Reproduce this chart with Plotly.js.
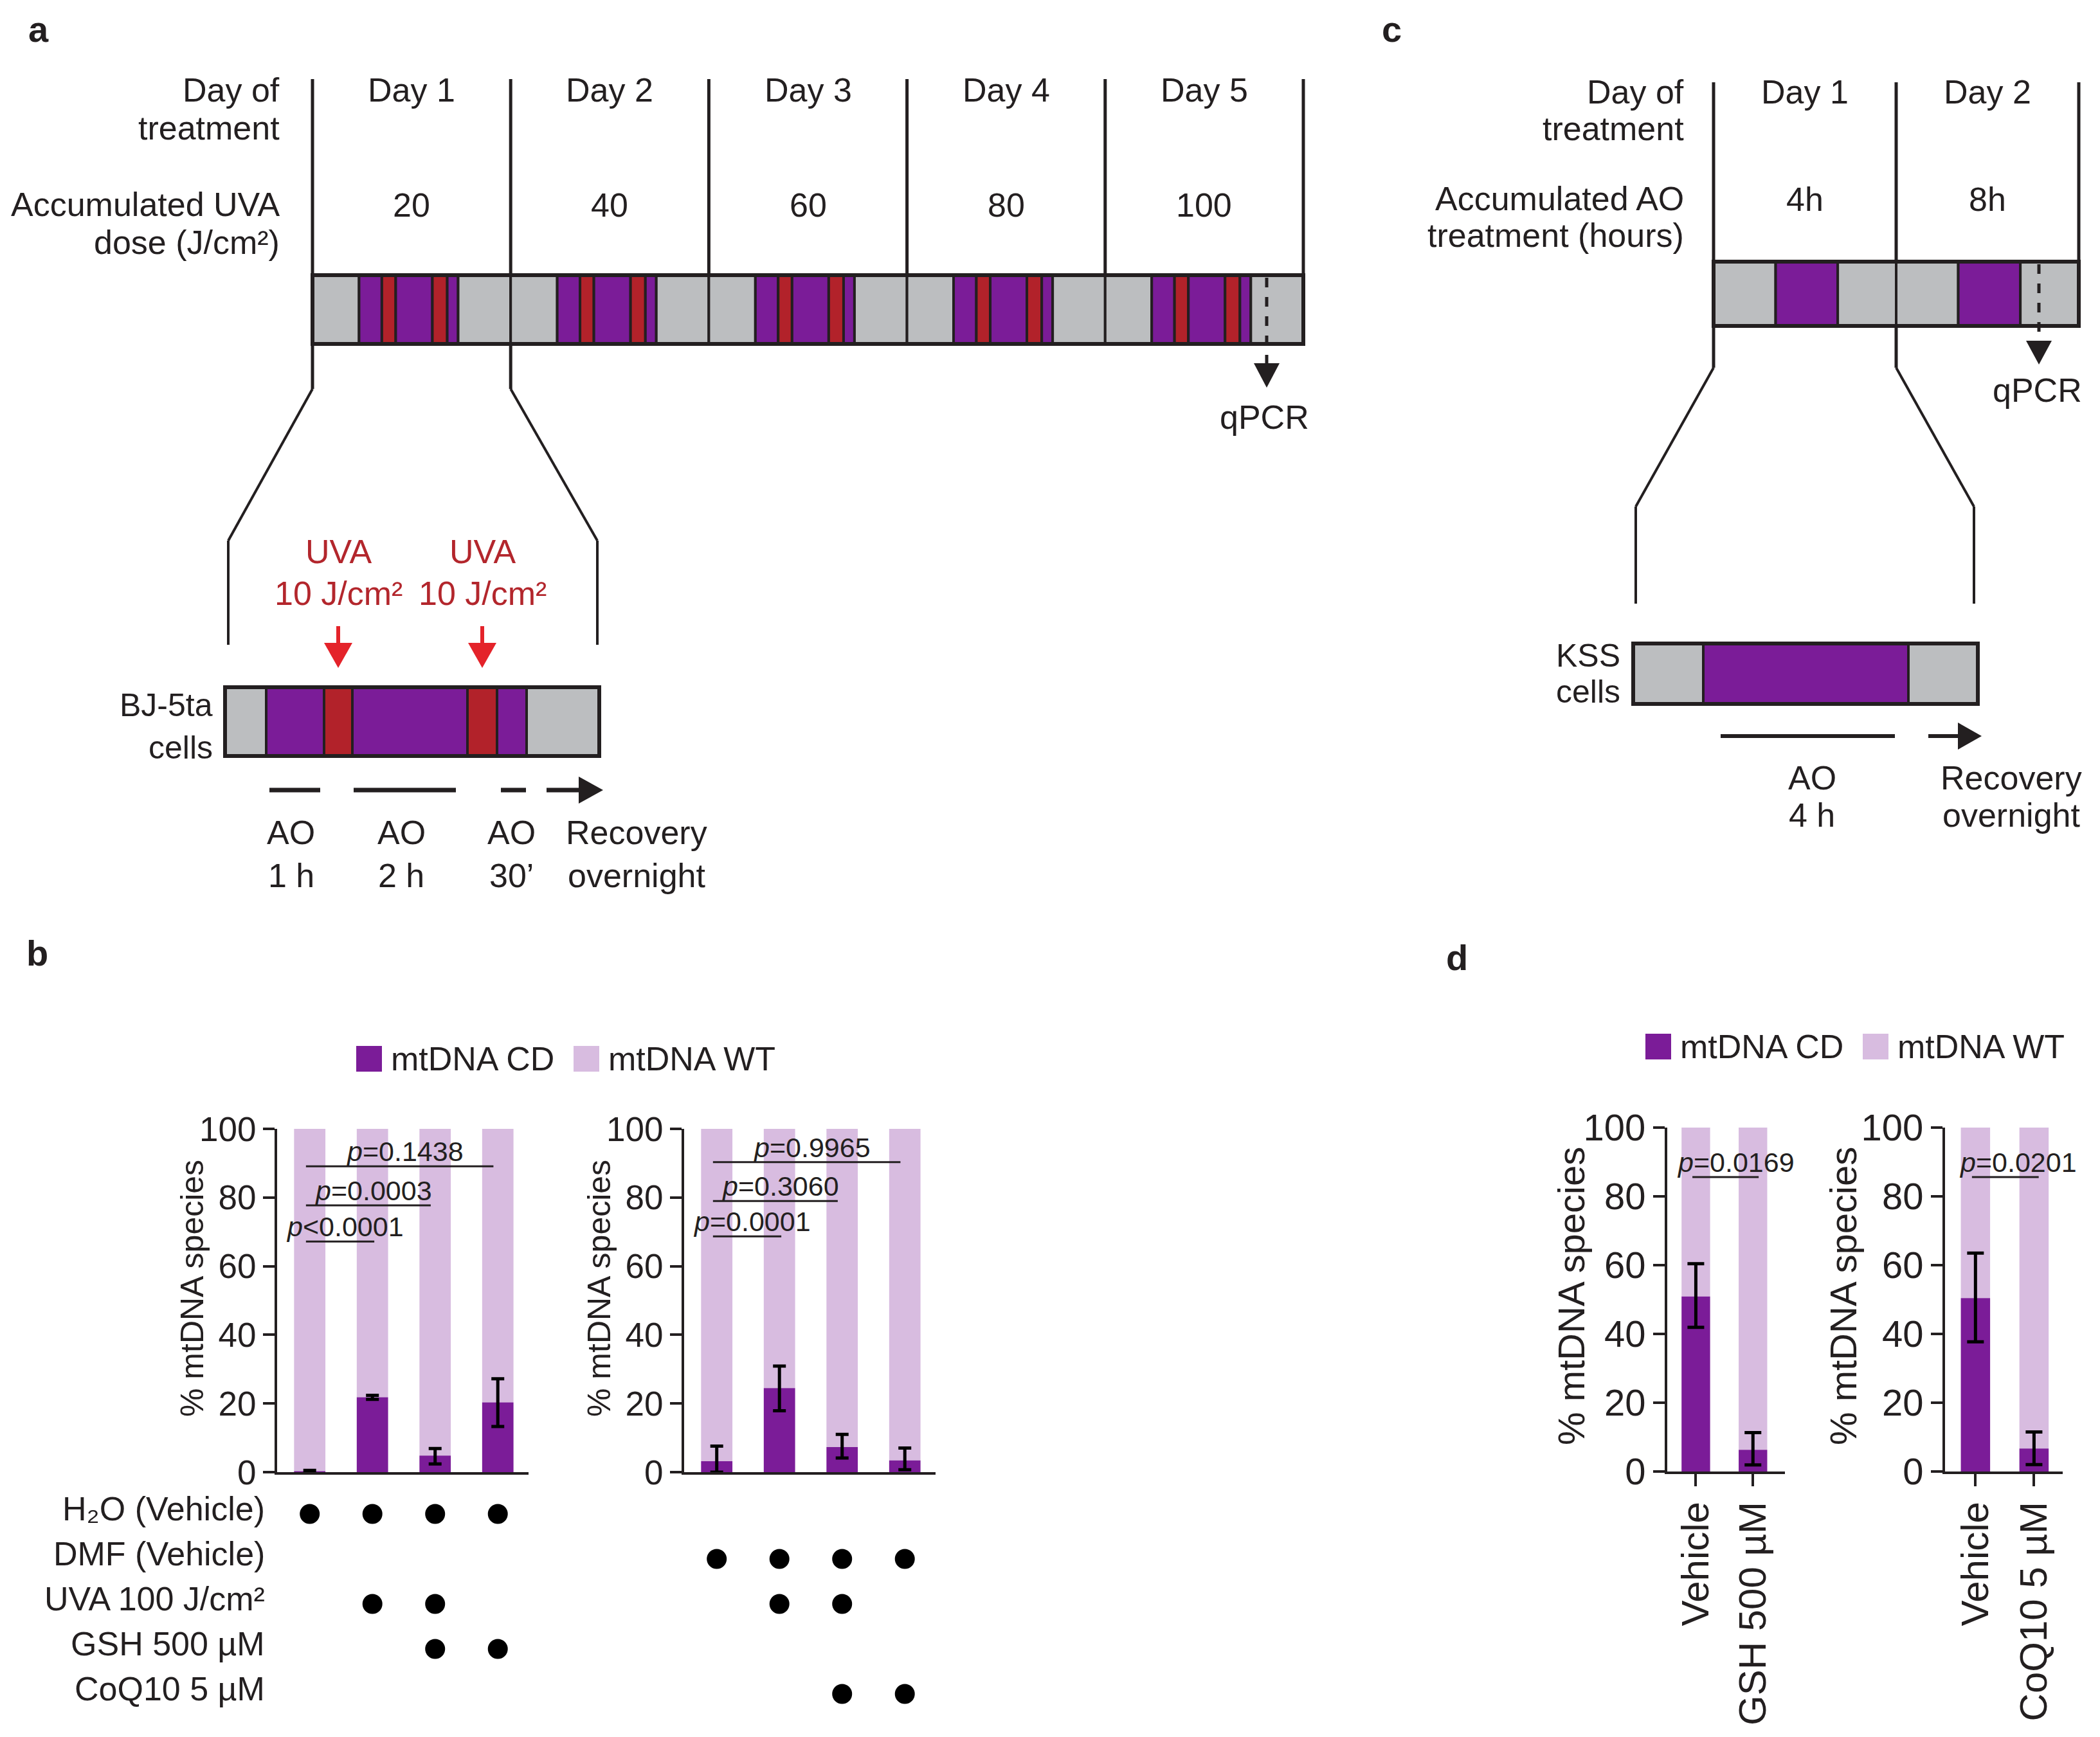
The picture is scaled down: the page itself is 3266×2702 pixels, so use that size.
<!DOCTYPE html>
<html><head><meta charset="utf-8">
<script src="https://cdn.plot.ly/plotly-3.0.1.min.js"></script>
<style>html,body{margin:0;padding:0;background:#fff;}</style>
</head><body><div id="chart" style="width:3266px;height:2702px;"></div>
<script>
// ---------------- data ----------------
const bLeftConditions = ['Vehicle', 'UVA', 'UVA + GSH', 'GSH'];
const bLeftCD = [0.3, 21.8, 4.8, 20.3];
const bLeftWT = [99.7, 78.2, 95.2, 79.7];
const bLeftErrUp = [0.2, 0.6, 2.1, 6.9];
const bLeftErrDown = [0.2, 0.6, 2.4, 7.0];

const bRightConditions = ['Vehicle', 'UVA', 'UVA + CoQ10', 'CoQ10'];
const bRightCD = [3.2, 24.5, 7.3, 3.4];
const bRightWT = [96.8, 75.5, 92.7, 96.6];
const bRightErrUp = [4.4, 6.4, 3.7, 3.6];
const bRightErrDown = [3.2, 6.6, 3.2, 2.7];

const treatmentRows = ['H₂O (Vehicle)', 'DMF (Vehicle)', 'UVA 100 J/cm²', 'GSH 500 µM', 'CoQ10 5 µM'];
const bLeftDotCond = ['Vehicle', 'UVA', 'UVA + GSH', 'GSH', 'UVA', 'UVA + GSH', 'UVA + GSH', 'GSH'];
const bLeftDotRow = [0, 0, 0, 0, 2, 2, 3, 3];
const bRightDotCond = ['Vehicle', 'UVA', 'UVA + CoQ10', 'CoQ10', 'UVA', 'UVA + CoQ10', 'UVA + CoQ10', 'CoQ10'];
const bRightDotRow = [1, 1, 1, 1, 2, 2, 4, 4];

const bLeftPairs = [[0, 3], [0, 2], [0, 1]];
const bLeftPText = ['=0.1438', '=0.0003', '&lt;0.0001'];
const bLeftPLevel = [89.1, 77.7, 67.2];
const bRightPairs = [[0, 3], [0, 2], [0, 1]];
const bRightPText = ['=0.9965', '=0.3060', '=0.0001'];
const bRightPLevel = [90.3, 79.0, 68.7];

const dLeftConditions = ['Vehicle', 'GSH 500 µM'];
const dLeftCD = [50.9, 6.3];
const dLeftWT = [49.1, 93.7];
const dLeftErrUp = [9.5, 5.0];
const dLeftErrDown = [9.0, 4.4];
const dLeftPText = ['=0.0169'];
const dLeftPLevel = [85.6];

const dRightConditions = ['Vehicle', 'CoQ10 5 µM'];
const dRightCD = [50.4, 6.7];
const dRightWT = [49.6, 93.3];
const dRightErrUp = [13.1, 4.8];
const dRightErrDown = [12.7, 4.7];
const dRightPText = ['=0.0201'];
const dRightPLevel = [85.6];

const yTicks = [0, 20, 40, 60, 80, 100];
const aDays = ['Day 1', 'Day 2', 'Day 3', 'Day 4', 'Day 5'];
const aDoses = ['20', '40', '60', '80', '100'];
const cDays = ['Day 1', 'Day 2'];
const cHours = ['4h', '8h'];

// ---------------- helpers ----------------
const W = 3266, H = 2702;
const X = x => x / W, Y = y => 1 - y / H;
const FONT = 'Liberation Sans, Arial, Helvetica, sans-serif';
const DARK = '#231F20', GRAY = '#BCBEC0', PURP = '#7B1C98', RED = '#B2222A';
const ARROWRED = '#E4232A', TXTRED = '#B3262C', LIGHT = '#D8BCE0';
const DIAG = 52;

const shapes = [];
const annotations = [];
function rectS(x0, y0, x1, y1, fill, lw) {
  shapes.push({type: 'rect', xref: 'paper', yref: 'paper', x0: X(x0), x1: X(x1), y0: Y(y1), y1: Y(y0),
    fillcolor: fill, line: {color: DARK, width: lw}, layer: 'above'});
}
function lineS(x0, y0, x1, y1, w, color, dash) {
  shapes.push({type: 'line', xref: 'paper', yref: 'paper', x0: X(x0), y0: Y(y0), x1: X(x1), y1: Y(y1),
    line: {color: color || DARK, width: w, dash: dash || 'solid'}, layer: 'above'});
}
function polyS(pts, fill) {
  const d = pts.map((p, i) => (i ? 'L' : 'M') + X(p[0]) + ',' + Y(p[1])).join(' ') + ' Z';
  shapes.push({type: 'path', xref: 'paper', yref: 'paper', path: d, fillcolor: fill, line: {width: 0}, layer: 'above'});
}
function T(s, x, y, o) {
  o = o || {};
  annotations.push({text: s, xref: 'paper', yref: 'paper', x: X(x), y: Y(y), showarrow: false, borderpad: 0,
    xanchor: o.anchor || 'center', yanchor: 'middle', textangle: o.angle || 0,
    font: {family: FONT, size: o.size || DIAG, color: o.color || DARK, weight: o.bold ? 700 : 400}});
}

// ---------------- panel a: timeline ----------------
T('a', 60, 45, {size: 56, bold: true});
const aX0 = 486, aDW = 308.2, aTop = 428, aBot = 535;
for (let i = 0; i <= aDays.length; i++) lineS(aX0 + i * aDW, 123, aX0 + i * aDW, aTop, 5);
const dayPattern = [[0, 0.235, GRAY], [0.235, 0.35, PURP], [0.35, 0.42, RED], [0.42, 0.605, PURP],
  [0.605, 0.68, RED], [0.68, 0.735, PURP], [0.735, 1, GRAY]];
aDays.forEach((d, i) => {
  const x = aX0 + i * aDW;
  dayPattern.forEach(s => rectS(x + s[0] * aDW, aTop, x + s[1] * aDW, aBot, s[2], 4));
  T(d, x + aDW / 2, 140);
  T(aDoses[i], x + aDW / 2, 319);
});
rectS(aX0, aTop, aX0 + aDays.length * aDW, aBot, 'rgba(0,0,0,0)', 6);
T('Day of', 436, 140, {anchor: 'right'});
T('treatment', 436, 199, {anchor: 'right'});
T('Accumulated UVA', 436, 318, {anchor: 'right'});
T('dose (J/cm²)', 436, 377, {anchor: 'right'});
// qPCR arrow
lineS(1970, 432, 1970, 568, 5, DARK, 'dash');
polyS([[1950, 565], [1990, 565], [1970, 603]], DARK);
T('qPCR', 1967, 649);
// zoom lines
lineS(aX0, aBot, aX0, 605, 5); lineS(aX0 + aDW, aBot, aX0 + aDW, 605, 5);
lineS(aX0, 605, 355, 841, 4); lineS(aX0 + aDW, 605, 929, 841, 4);
lineS(355, 841, 355, 1003, 4); lineS(929, 841, 929, 1003, 4);
// inset bar
const insetSegs = [[350, 414, GRAY], [414, 504, PURP], [504, 548, RED], [548, 727, PURP], [727, 773, RED], [773, 819, PURP], [819, 932, GRAY]];
insetSegs.forEach(s => rectS(s[0], 1069, s[1], 1176, s[2], 4));
rectS(350, 1069, 932, 1176, 'rgba(0,0,0,0)', 6);
T('BJ-5ta', 332, 1097, {anchor: 'right', size: 50});
T('cells', 332, 1163, {anchor: 'right', size: 50});
[526, 750].forEach(x => {
  lineS(x, 974, x, 1004, 6, ARROWRED);
  polyS([[x - 22, 1000], [x + 22, 1000], [x, 1039]], ARROWRED);
  T('UVA', x, 858, {color: TXTRED});
  T('10 J/cm²', x, 923, {color: TXTRED});
});
lineS(419, 1229, 498, 1229, 7); lineS(550, 1229, 709, 1229, 7); lineS(779, 1229, 818, 1229, 7);
lineS(850, 1229, 905, 1229, 7);
polyS([[900, 1208], [900, 1250], [938, 1229]], DARK);
T('AO', 453, 1295); T('1 h', 453, 1362);
T('AO', 624, 1295); T('2 h', 624, 1362);
T('AO', 795, 1295); T('30’', 795, 1362);
T('Recovery', 990, 1295); T('overnight', 990, 1362);

// ---------------- panel c ----------------
T('c', 2164, 46, {size: 56, bold: true});
const cX0 = 2665, cDW = 284, cTop = 407, cBot = 507;
for (let i = 0; i <= cDays.length; i++) lineS(cX0 + i * cDW, 128, cX0 + i * cDW, cTop, 5);
const cPattern = [[0, 0.34, GRAY], [0.34, 0.68, PURP], [0.68, 1, GRAY]];
cDays.forEach((d, i) => {
  const x = cX0 + i * cDW;
  cPattern.forEach(s => rectS(x + s[0] * cDW, cTop, x + s[1] * cDW, cBot, s[2], 4));
  T(d, x + cDW / 2, 143);
  T(cHours[i], x + cDW / 2, 310);
});
rectS(cX0, cTop, cX0 + 2 * cDW, cBot, 'rgba(0,0,0,0)', 6);
T('Day of', 2620, 143, {anchor: 'right'});
T('treatment', 2620, 200, {anchor: 'right'});
T('Accumulated AO', 2620, 309, {anchor: 'right'});
T('treatment (hours)', 2620, 366, {anchor: 'right'});
lineS(3171, 411, 3171, 534, 5, DARK, 'dash');
polyS([[3151, 530], [3191, 530], [3171, 567]], DARK);
T('qPCR', 3168, 607);
lineS(cX0, cBot, cX0, 572, 5); lineS(cX0 + cDW, cBot, cX0 + cDW, 572, 5);
lineS(cX0, 572, 2544, 788, 4); lineS(cX0 + cDW, 572, 3070, 788, 4);
lineS(2544, 788, 2544, 939, 4); lineS(3070, 788, 3070, 939, 4);
rectS(2540, 1001, 2649, 1095, GRAY, 4);
rectS(2649, 1001, 2968, 1095, PURP, 4);
rectS(2968, 1001, 3076, 1095, GRAY, 4);
rectS(2540, 1001, 3076, 1095, 'rgba(0,0,0,0)', 6);
T('KSS', 2521, 1020, {anchor: 'right', size: 50});
T('cells', 2521, 1076, {anchor: 'right', size: 50});
lineS(2676, 1145, 2947, 1145, 6);
lineS(2999, 1145, 3050, 1145, 6);
polyS([[3045, 1124], [3045, 1166], [3082, 1145]], DARK);
T('AO', 2818, 1210); T('4 h', 2818, 1268);
T('Recovery', 3128, 1210); T('overnight', 3128, 1268);

// ---------------- panel b / d legends & labels ----------------
T('b', 58, 1482, {size: 56, bold: true});
T('d', 2266, 1489, {size: 56, bold: true});
function legend(x, y) {
  shapes.push({type: 'rect', xref: 'paper', yref: 'paper', x0: X(x), x1: X(x + 40), y0: Y(y + 20), y1: Y(y - 20), fillcolor: PURP, line: {width: 0}});
  T('mtDNA CD', x + 53, y, {anchor: 'left', size: 52});
  shapes.push({type: 'rect', xref: 'paper', yref: 'paper', x0: X(x + 338), x1: X(x + 378), y0: Y(y + 20), y1: Y(y - 20), fillcolor: LIGHT, line: {width: 0}});
  T('mtDNA WT', x + 391, y, {anchor: 'left', size: 52});
}
legend(554, 1647);
legend(2559, 1628);
T('% mtDNA species', 299, 2004, {angle: -90, size: 50});
T('% mtDNA species', 932, 2004, {angle: -90, size: 50});
T('% mtDNA species', 2443, 2016, {angle: -90, size: 58});
T('% mtDNA species', 2866, 2016, {angle: -90, size: 58});
treatmentRows.forEach((r, i) => annotations.push({text: r, xref: 'paper', yref: 'y5', x: X(413), y: i, yshift: 8,
  xanchor: 'right', yanchor: 'middle', showarrow: false, borderpad: 0, font: {family: FONT, size: 52, color: DARK}}));

// significance brackets
function sig(pairs, texts, levels, xa, ya, shortExt, xshift) {
  pairs.forEach((p, k) => {
    const x0 = p[0] - 0.06;
    const x1 = (p[1] - p[0] === 1) ? p[1] + shortExt : p[1] - 0.07;
    shapes.push({type: 'line', xref: xa, yref: ya, x0: x0, x1: x1, y0: levels[k], y1: levels[k],
      line: {color: DARK, width: 3}, layer: 'above'});
    annotations.push({text: '<i>p</i>' + texts[k], xref: xa, yref: ya, x: (x0 + x1) / 2, y: levels[k],
      xanchor: 'center', yanchor: 'bottom', xshift: xshift, yshift: -2, showarrow: false, borderpad: 0,
      font: {family: FONT, size: 43, color: DARK}});
  });
}
sig(bLeftPairs, bLeftPText, bLeftPLevel, 'x', 'y', 0.03, 8);
sig(bRightPairs, bRightPText, bRightPLevel, 'x2', 'y2', 0.03, 8);
sig([[0, 1]], dLeftPText, dLeftPLevel, 'x3', 'y3', 0.1, 16);
sig([[0, 1]], dRightPText, dRightPLevel, 'x4', 'y4', 0.08, 20);

// ---------------- traces ----------------
function bars(cats, cd, wt, up, down, xa, ya, capw) {
  return [
    {type: 'bar', x: cats, y: wt, base: cd, width: 0.5, xaxis: xa, yaxis: ya, marker: {color: LIGHT, line: {width: 0}}, hoverinfo: 'skip'},
    {type: 'bar', x: cats, y: cd, width: 0.5, xaxis: xa, yaxis: ya, marker: {color: PURP, line: {width: 0}}, hoverinfo: 'skip',
      error_y: {type: 'data', symmetric: false, array: up, arrayminus: down, color: '#000', thickness: 5, width: capw}}
  ];
}
const traces = [].concat(
  bars(bLeftConditions, bLeftCD, bLeftWT, bLeftErrUp, bLeftErrDown, 'x', 'y', 10),
  bars(bRightConditions, bRightCD, bRightWT, bRightErrUp, bRightErrDown, 'x2', 'y2', 10),
  bars(dLeftConditions, dLeftCD, dLeftWT, dLeftErrUp, dLeftErrDown, 'x3', 'y3', 13),
  bars(dRightConditions, dRightCD, dRightWT, dRightErrUp, dRightErrDown, 'x4', 'y4', 13),
  [{type: 'scatter', mode: 'markers', x: bLeftDotCond, y: bLeftDotRow, xaxis: 'x', yaxis: 'y5', cliponaxis: false,
    marker: {size: 31, color: '#000'}, hoverinfo: 'skip'},
   {type: 'scatter', mode: 'markers', x: bRightDotCond, y: bRightDotRow, xaxis: 'x2', yaxis: 'y5', cliponaxis: false,
    marker: {size: 31, color: '#000'}, hoverinfo: 'skip'}]
);

function xax(domain, range, cats, anchor, d) {
  const a = {domain: domain, range: range, type: 'category', categoryorder: 'array', categoryarray: cats, anchor: anchor,
    showline: true, linewidth: 4, linecolor: DARK, showgrid: false, zeroline: false, fixedrange: true};
  if (d) {
    Object.assign(a, {ticks: 'outside', ticklen: 19, tickwidth: 4, tickcolor: DARK, tickangle: -90,
      tickfont: {family: FONT, size: 60, color: DARK}});
  } else {
    Object.assign(a, {showticklabels: false, ticks: ''});
  }
  return a;
}
function yax(domain, anchor, size) {
  return {domain: domain, range: [0, 100], anchor: anchor, tickvals: yTicks, ticks: 'outside', ticklen: 18, tickwidth: 4,
    tickcolor: DARK, showline: true, linewidth: 4, linecolor: DARK, showgrid: false, zeroline: false, fixedrange: true,
    tickfont: {family: FONT, size: size, color: DARK}};
}

const layout = {
  width: W, height: H, margin: {l: 0, r: 0, t: 0, b: 0, pad: 0},
  paper_bgcolor: '#fff', plot_bgcolor: 'rgba(0,0,0,0)', showlegend: false, barmode: 'overlay',
  font: {family: FONT, color: DARK, size: 50},
  xaxis: xax([X(431), X(822)], [-0.52, 3.49], bLeftConditions, 'y', false),
  yaxis: yax([Y(2290), Y(1756)], 'x', 53),
  xaxis2: xax([X(1064), X(1455)], [-0.52, 3.49], bRightConditions, 'y2', false),
  yaxis2: yax([Y(2290), Y(1756)], 'x2', 53),
  xaxis3: xax([X(2593), X(2776)], [-0.5, 1.56], dLeftConditions, 'y3', true),
  yaxis3: yax([Y(2289), Y(1754)], 'x3', 58),
  xaxis4: xax([X(3025), X(3208)], [-0.52, 1.49], dRightConditions, 'y4', true),
  yaxis4: yax([Y(2289), Y(1754)], 'x4', 58),
  yaxis5: {domain: [Y(2670), Y(2320)], range: [4.5, -0.5], anchor: 'x', visible: false, fixedrange: true},
  shapes: shapes,
  annotations: annotations
};

Plotly.newPlot('chart', traces, layout, {displayModeBar: false, staticPlot: true});
</script>
</body></html>
